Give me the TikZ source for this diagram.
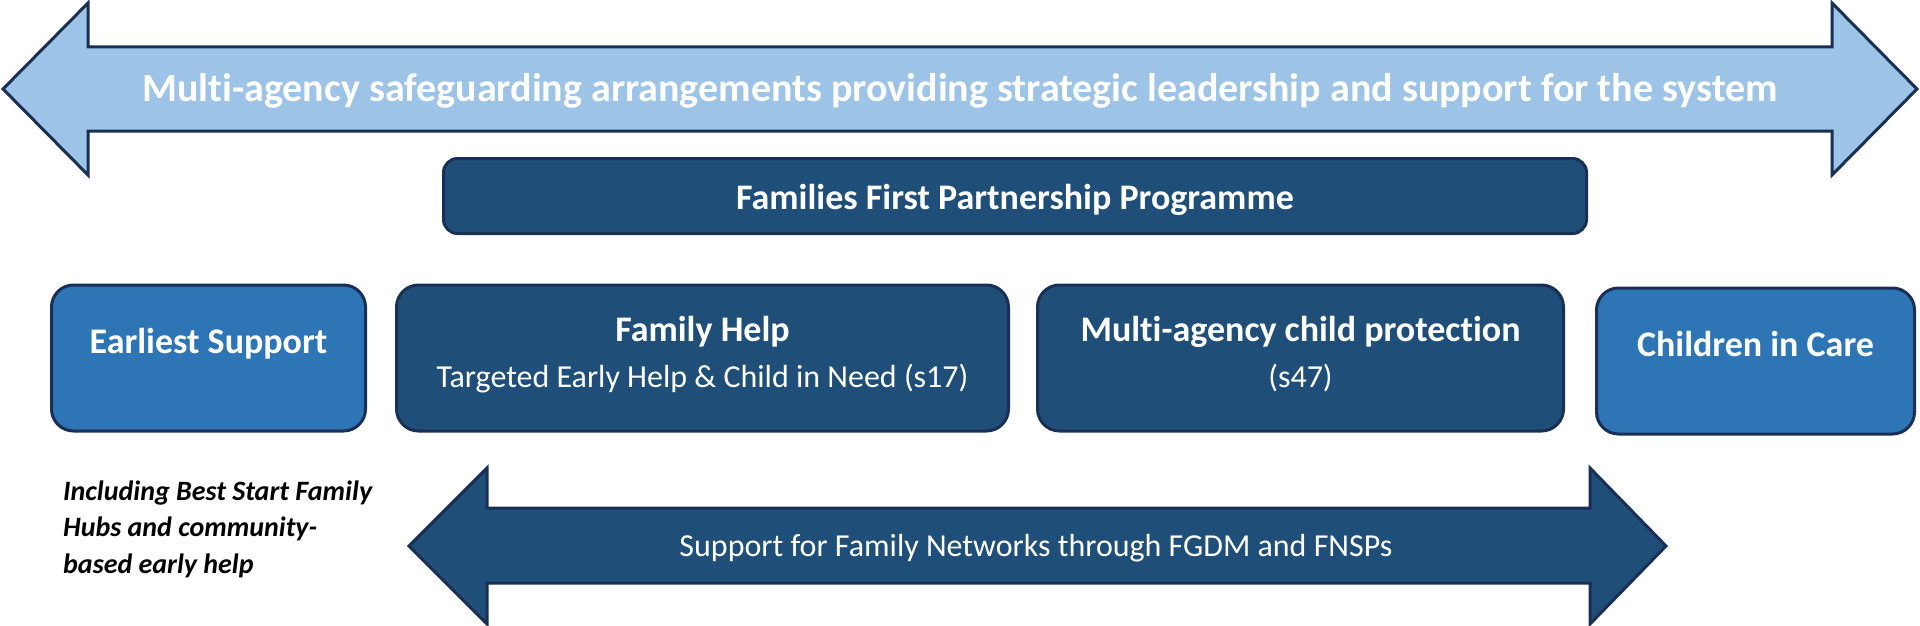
\documentclass[tikz,border=0pt]{standalone}
\usepackage{fontspec}
\setmainfont{Carlito}[Ligatures=NoCommon]
\usepackage{tikz}
\definecolor{navyline}{HTML}{1A2F56}
\definecolor{skyfill}{HTML}{9DC3E6}
\definecolor{darkfill}{HTML}{1F4E79}
\definecolor{midfill}{HTML}{2E75B6}
\tikzstyle{block} = [rectangle, draw=navyline, line width=3pt, rounded corners=22pt,
    minimum height=146pt, inner sep=0pt]
\tikzstyle{boxtitle} = [text=white, anchor=base, inner sep=0pt, font=\bfseries\fontsize{36}{42}\selectfont]
\tikzstyle{boxsub} = [text=white, anchor=base, inner sep=0pt, font=\fontsize{32}{38}\selectfont]

\begin{document}
\begin{tikzpicture}[x=1pt, y=-1pt,
bigarrow/.style = {draw=navyline, line width=3pt, line join=miter},
darkbox/.style = {block, fill=darkfill},
midbox/.style = {block, fill=midfill},
                        ]
\useasboundingbox (0,0) rectangle (1920,626);
% top arrow
\draw [bigarrow, fill=skyfill] (3,89) -- (88,3) -- (88,47) -- (1832,47) -- (1832,3)
    -- (1917,89) -- (1832,175) -- (1832,131) -- (88,131) -- (88,175) -- cycle;
\node [boxtitle, font=\bfseries\fontsize{40}{48}\selectfont] (safeguard) at (960,101)
    {Multi-agency safeguarding arrangements providing strategic leadership and support for the system};
% programme bar
\node [darkbox, rounded corners=14pt, minimum width=1143pt, minimum height=75pt] (ffpp) at (1015,196) {};
\node [boxtitle] (ffpptxt) at (1015,209) {Families First Partnership Programme};
% row of boxes
\node [midbox, minimum width=314pt] (earliest) at (208.5,358) {};
\node [boxtitle] (earliesttxt) at (208.5,353) {Earliest Support};
\node [darkbox, minimum width=612pt] (famhelp) at (702.5,358) {};
\node [boxtitle] (famhelptxt) at (702.5,341) {Family Help};
\node [boxsub] (famhelpsub) at (702.5,387) {Targeted Early Help \& Child in Need (s17)};
\node [darkbox, minimum width=526pt] (protect) at (1300.5,358) {};
\node [boxtitle] (protecttxt) at (1300.5,341) {Multi-agency child protection};
\node [boxsub] (protectsub) at (1300.5,387) {(s47)};
\node [midbox, minimum width=318pt] (incare) at (1755.5,361) {};
\node [boxtitle] (incaretxt) at (1755.5,356) {Children in Care};
% note under earliest support
\node [anchor=base west, inner sep=0pt, align=left, font=\bfseries\itshape\fontsize{28}{36.5}\selectfont]
    (hubs) at (63,573) {Including Best Start Family\\Hubs and community-\\based early help};
% bottom arrow
\draw [bigarrow, fill=darkfill] (409,546) -- (487,468) -- (487,508) -- (1590,508) -- (1590,468)
    -- (1666,546) -- (1590,624) -- (1590,583) -- (487,583) -- (487,624) -- cycle;
\node [boxsub] (networks) at (1036,556) {Support for Family Networks through FGDM and FNSPs};
\end{tikzpicture}
\end{document}
